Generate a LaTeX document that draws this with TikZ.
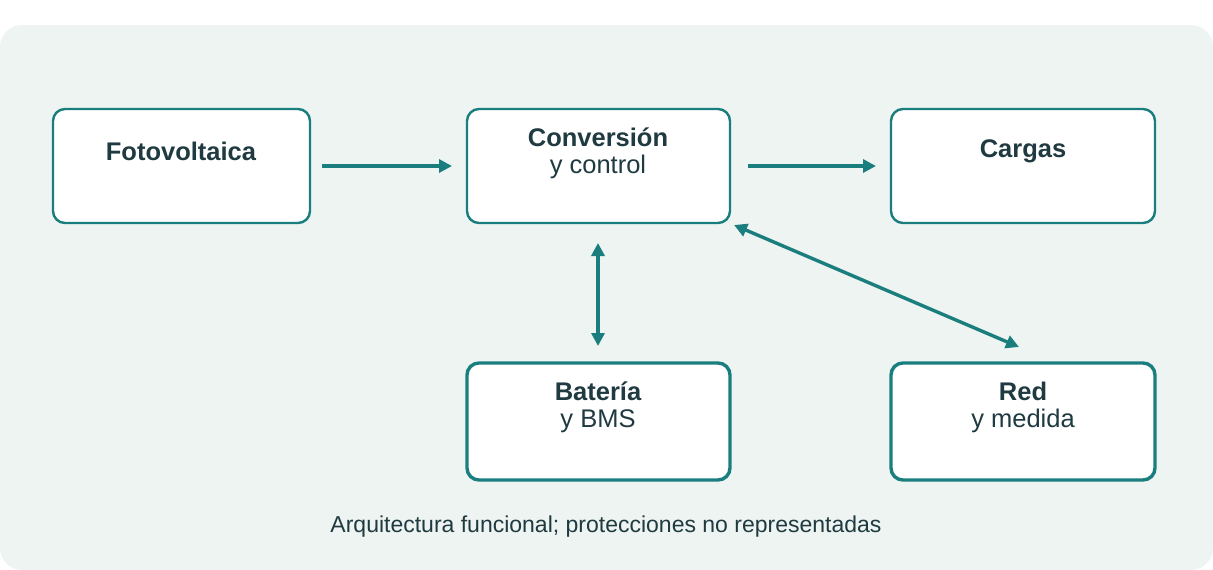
\documentclass[tikz,border=0pt]{standalone}
\usepackage{fontspec}
\setmainfont{Liberation Sans}
\usetikzlibrary{arrows.meta}
\definecolor{bg}{HTML}{EEF4F1}
\definecolor{teal}{HTML}{1B7E7E}
\definecolor{txt}{HTML}{1F3A40}
\begin{document}
\begin{tikzpicture}[x=1pt,y=-1pt,
  box/.style={draw=teal,line width=2.4pt,fill=white,rounded corners=12pt},
  tbox/.style={box,line width=3.4pt},
  arr/.style={draw=teal,line width=3.4pt,-{Triangle[length=13pt,width=13pt]}},
  darr/.style={draw=teal,line width=3.4pt,{Triangle[length=13pt,width=13pt]}-{Triangle[length=13pt,width=13pt]}},
  tt/.style={font=\fontsize{25.5}{30}\selectfont\bfseries,text=txt},
  st/.style={font=\fontsize{25.5}{30}\selectfont,text=txt}]
\useasboundingbox (0,0) rectangle (1213,570);
\fill[bg,rounded corners=22pt] (0,25) rectangle (1213,570);
\draw[box] (53,109) rectangle (310,223);
\draw[box] (467,109) rectangle (730,223);
\draw[box] (891,109) rectangle (1155,223);
\draw[tbox] (467,363) rectangle (730,480);
\draw[tbox] (891,363) rectangle (1155,480);
\node[tt] (f) at (181,151) {Fotovoltaica};
\node[tt] (c) at (598,137) {Conversión};
\node[st] (c2) at (598,167) {y control};
\node[tt] (g) at (1023,151) {Cargas};
\node[tt] (b) at (598,391) {Batería};
\node[st] (b2) at (598,421) {y BMS};
\node[tt] (r) at (1023,391) {Red};
\node[st] (r2) at (1023,421) {y medida};
\coordinate (a1) at (322,166); \coordinate (a2) at (452,166);
\coordinate (a3) at (748,166); \coordinate (a4) at (876,166);
\coordinate (v1) at (598,243); \coordinate (v2) at (598,346);
\coordinate (d1) at (734,225); \coordinate (d2) at (1019,347);
\draw[arr] (a1) -- (a2);
\draw[arr] (a3) -- (a4);
\draw[darr] (v1) -- (v2);
\draw[darr] (d1) -- (d2);
\node[font=\fontsize{23}{27}\selectfont,text=txt] (cap) at (606,527) {Arquitectura funcional; protecciones no representadas};
\end{tikzpicture}
\end{document}
